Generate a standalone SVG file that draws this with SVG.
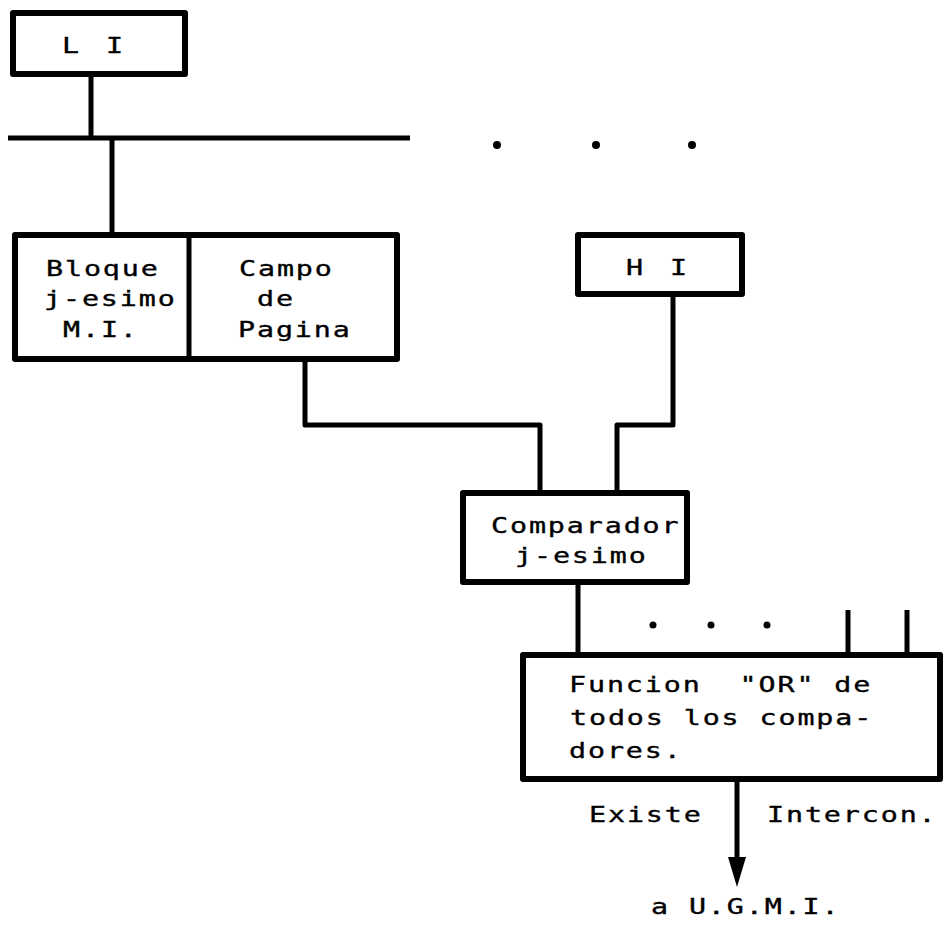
<svg xmlns="http://www.w3.org/2000/svg" width="945" height="925" viewBox="0 0 945 925">
<style>
.box{fill:none;stroke:#000;stroke-width:6;stroke-linejoin:round}
.ln{fill:none;stroke:#000;stroke-width:5;stroke-linejoin:round;stroke-linecap:butt}
.t{font-family:"DejaVu Sans Mono","Liberation Mono",monospace;font-size:21px;letter-spacing:1.4px;fill:#000;stroke:#000;stroke-width:0.35}
</style>
<rect width="945" height="925" fill="#fff"/>
<g id="connectors">
<path class="ln" d="M91 74 V138"/>
<path class="ln" d="M8 138 H410" stroke-width="6" stroke-linecap="round"/>
<path class="ln" d="M112 138 V235"/>
<path class="ln" d="M305 359 V425 H540 V493"/>
<path class="ln" d="M673 294 V425 H617 V493"/>
<path class="ln" d="M578 582 V655"/>
<path class="ln" d="M848 610 V655"/>
<path class="ln" d="M907 610 V655"/>
<path class="ln" d="M737 779 V862"/>
<polygon points="728,857 746,857 737,887" fill="#000"/>
<circle cx="497" cy="145" r="4"/>
<circle cx="596" cy="145" r="4"/>
<circle cx="692" cy="145" r="4"/>
<circle cx="653" cy="625" r="3.5"/>
<circle cx="711" cy="625" r="3.5"/>
<circle cx="767" cy="625" r="3.5"/>
</g>
<g id="LI">
<rect class="box" x="13" y="13" width="172" height="61"/>
<text class="t" transform="translate(62,53) scale(1.35,1)" style="letter-spacing:3.7px">L I</text>
</g>
<g id="bloque">
<rect class="box" x="15" y="235" width="382" height="124"/>
<path class="ln" d="M189 235 V359" stroke-width="6"/>
<text class="t" transform="translate(46,276) scale(1.35,1)">Bloque</text>
<text class="t" transform="translate(44,306) scale(1.35,1)">j-esimo</text>
<text class="t" transform="translate(63,337) scale(1.35,1)">M.I.</text>
<text class="t" transform="translate(239,276) scale(1.35,1)">Campo</text>
<text class="t" transform="translate(257,306) scale(1.35,1)">de</text>
<text class="t" transform="translate(238,337) scale(1.35,1)">Pagina</text>
</g>
<g id="HI">
<rect class="box" x="578" y="235" width="164" height="59"/>
<text class="t" transform="translate(626,275) scale(1.35,1)" style="letter-spacing:3.7px">H I</text>
</g>
<g id="comparador">
<rect class="box" x="463" y="493" width="224" height="89"/>
<text class="t" transform="translate(491,533) scale(1.35,1)">Comparador</text>
<text class="t" transform="translate(515,563) scale(1.35,1)">j-esimo</text>
</g>
<g id="or">
<rect class="box" x="523" y="655" width="417" height="124"/>
<text class="t" transform="translate(569,692) scale(1.35,1)" xml:space="preserve">Funcion  "OR" de</text>
<text class="t" transform="translate(570,725) scale(1.35,1)">todos los compa-</text>
<text class="t" transform="translate(569,758) scale(1.35,1)">dores.</text>
</g>
<g id="labels">
<text class="t" transform="translate(589,822) scale(1.35,1)">Existe</text>
<text class="t" transform="translate(767,822) scale(1.35,1)">Intercon.</text>
<text class="t" transform="translate(651,914) scale(1.35,1)">a U.G.M.I.</text>
</g>
</svg>
